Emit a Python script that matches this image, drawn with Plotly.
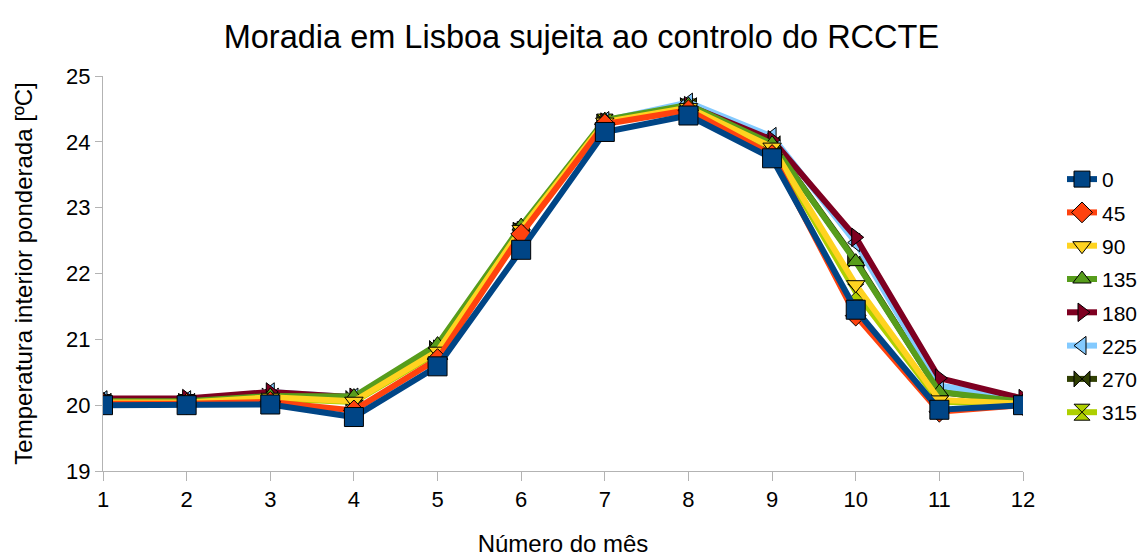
import plotly.graph_objects as go

# Month numbers
meses = list(range(1, 13))

# Weighted indoor temperature [ºC] per orientation (degrees)
t_0   = [20.00, 20.00, 20.01, 19.82, 20.59, 22.36, 24.15, 24.40, 23.75, 21.45, 19.93, 20.00]
t_45  = [20.02, 20.02, 20.05, 19.92, 20.70, 22.60, 24.27, 24.48, 23.80, 21.36, 19.90, 20.00]
t_90  = [20.04, 20.04, 20.12, 20.06, 20.82, 22.67, 24.30, 24.52, 23.92, 21.83, 20.08, 20.02]
t_135 = [20.06, 20.06, 20.14, 20.13, 20.92, 22.72, 24.33, 24.56, 23.97, 22.18, 20.20, 20.05]
t_180 = [20.10, 20.10, 20.20, 20.12, 20.85, 22.65, 24.30, 24.55, 24.03, 22.55, 20.41, 20.10]
t_225 = [20.08, 20.08, 20.20, 20.12, 20.85, 22.66, 24.32, 24.60, 24.08, 22.47, 20.30, 20.08]
t_270 = [20.06, 20.06, 20.14, 20.10, 20.86, 22.66, 24.30, 24.55, 23.97, 22.20, 20.20, 20.05]
t_315 = [20.04, 20.04, 20.10, 20.05, 20.80, 22.64, 24.30, 24.53, 23.90, 21.72, 20.05, 20.02]

nomes = ["0", "45", "90", "135", "180", "225", "270", "315"]
series = [t_0, t_45, t_90, t_135, t_180, t_225, t_270, t_315]
cores = ["#004586", "#ff420e", "#ffd320", "#579d1c", "#7e0021", "#83caff", "#314004", "#aecf00"]
simbolos = ["square", "diamond", "triangle-down", "triangle-up",
            "triangle-right", "triangle-left", "bowtie", "hourglass"]
tamanhos = [19, 16, 16, 16, 16, 16, 16, 16]

fig = go.Figure()

# Draw the last orientation first so that "0" ends up on top
for i in reversed(range(len(series))):
    fig.add_trace(go.Scatter(
        x=meses, y=series[i], name=nomes[i],
        mode="lines+markers",
        line=dict(color=cores[i], width=6),
        marker=dict(symbol=simbolos[i], size=tamanhos[i], color=cores[i],
                    line=dict(color="#000000", width=1)),
        legendrank=i + 1,
        legendgroup=nomes[i],
    ))

eixo = dict(
    showgrid=False, zeroline=False,
    showline=True, linecolor="#b3b3b3", linewidth=1,
    ticks="outside", tickcolor="#b3b3b3", ticklen=9,
    tickfont=dict(size=22, color="#000000"),
)

fig.update_layout(
    width=1140, height=557,
    margin=dict(l=103, r=117, t=76, b=86, autoexpand=False),
    paper_bgcolor="white", plot_bgcolor="white",
    font=dict(family="Liberation Sans, Arial, sans-serif", color="#000000"),
    title=dict(text="Moradia em Lisboa sujeita ao controlo do RCCTE",
               x=0.51, xanchor="center", y=0.935, yanchor="middle",
               font=dict(size=32.5, color="#000000")),
    xaxis=dict(eixo, range=[1, 12], tickmode="array", tickvals=meses,
               title=dict(text="Número do mês", font=dict(size=24), standoff=26)),
    yaxis=dict(eixo, range=[19, 25], dtick=1, ticklen=7,
               title=dict(text="Temperatura interior ponderada [ºC]",
                          font=dict(size=24), standoff=26)),
    legend=dict(x=1062 / 1140, xref="container", xanchor="left",
                y=0.79, yanchor="top",
                font=dict(size=21), traceorder="grouped",
                tracegroupgap=3, itemwidth=30, bgcolor="rgba(0,0,0,0)"),
    showlegend=True,
)

fig.write_html("out.html")
